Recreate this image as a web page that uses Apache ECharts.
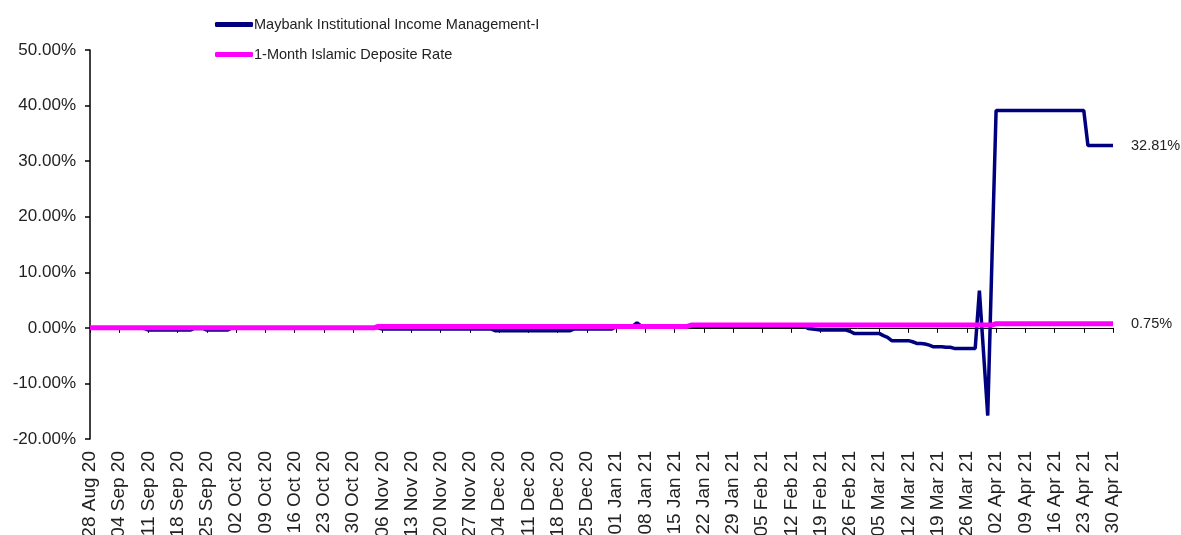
<!DOCTYPE html>
<html>
<head>
<meta charset="utf-8">
<script src="https://cdn.jsdelivr.net/npm/echarts@6/dist/echarts.min.js"></script>
<style>
html,body{margin:0;padding:0;background:#fff;}
#chart{width:1181px;height:535px;}
</style>
</head>
<body>
<div id="chart"></div>
<script>
// Daily categories from 28 Aug 2020 to 30 Apr 2021 (labels every 7th day)
const startDate = [2020, 7, 28];
const dayCount = 246;
const monthNames = ['Jan','Feb','Mar','Apr','May','Jun','Jul','Aug','Sep','Oct','Nov','Dec'];
const categories = [];
for (let i = 0; i < dayCount; i++) {
  const d = new Date(Date.UTC(startDate[0], startDate[1], startDate[2] + i));
  const dd = String(d.getUTCDate()).padStart(2, '0');
  const yy = String(d.getUTCFullYear()).slice(2);
  categories.push(dd + ' ' + monthNames[d.getUTCMonth()] + ' ' + yy);
}

const seriesNames = ['Maybank Institutional Income Management-I', '1-Month Islamic Deposite Rate'];

// Fund cumulative return (%), one row per week (Fri..Thu)
const fundValues = [
  0,0,0,0,0,0,0,
  0,0,0,0,0,0,-0.1,
  -0.4,-0.4,-0.4,-0.4,-0.4,-0.4,-0.4,
  -0.4,-0.4,-0.4,-0.4,-0.1,-0.1,-0.1,
  -0.4,-0.4,-0.4,-0.4,-0.4,-0.4,0,
  0,0,0,0,0,0,0,
  0,0,0,0,0,0,0,
  0,0,0,0,0,0,0,
  0,0,0,0,0,0,0,
  0,0,0,0,0,0,0,
  -0.2,-0.2,-0.2,-0.2,-0.2,-0.2,-0.2,
  -0.2,-0.2,-0.2,-0.2,-0.2,-0.2,-0.2,
  -0.2,-0.2,-0.2,-0.2,-0.2,-0.2,-0.2,
  -0.2,-0.2,-0.2,-0.2,-0.2,-0.2,-0.5,
  -0.5,-0.5,-0.5,-0.5,-0.5,-0.5,-0.5,
  -0.5,-0.5,-0.5,-0.5,-0.5,-0.5,-0.5,
  -0.5,-0.5,-0.5,-0.5,-0.2,-0.2,-0.2,
  -0.2,-0.2,-0.2,-0.2,-0.2,-0.2,-0.2,
  0.2,0.2,0.2,0.2,0.3,0.9,0.3,
  0.3,0.3,0.3,0.3,0.3,0.3,0.3,
  0.3,0.3,0.3,0.3,0.3,0.3,0.3,
  0.3,0.3,0.3,0.3,0.3,0.3,0.3,
  0.3,0.3,0.3,0.3,0.3,0.3,0.3,
  0.3,0.3,0.3,0.3,0.3,0.3,0.3,
  0.3,0.3,0.3,0.3,-0.1,-0.2,-0.3,
  -0.4,-0.4,-0.4,-0.4,-0.4,-0.4,-0.4,
  -0.6,-1.0,-1.0,-1.0,-1.0,-1.0,-1.0,
  -1.0,-1.4,-1.7,-2.3,-2.3,-2.3,-2.3,
  -2.3,-2.5,-2.8,-2.8,-2.9,-3.1,-3.4,
  -3.4,-3.4,-3.5,-3.5,-3.7,-3.7,-3.7,
  -3.7,-3.7,-3.7,6.7,-4.5,-15.8,12.0,
  39.1,39.1,39.1,39.1,39.1,39.1,39.1,
  39.1,39.1,39.1,39.1,39.1,39.1,39.1,
  39.1,39.1,39.1,39.1,39.1,39.1,39.1,
  39.1,32.81,32.81,32.81,32.81,32.81,32.81,
  32.81
];

// 1-Month Islamic deposit rate, cumulative (%)
const depositValues = [
  0,0,0,0,0,0,0,
  0,0,0,0,0,0,0,
  0,0,0,0,0,0,0,
  0,0,0,0,0,0,0,
  0,0,0,0,0,0,0,
  0,0,0,0,0,0,0,
  0,0,0,0,0,0,0,
  0,0,0,0,0,0,0,
  0,0,0,0,0,0,0,
  0,0,0,0,0,0,0.25,
  0.25,0.25,0.25,0.25,0.25,0.25,0.25,
  0.25,0.25,0.25,0.25,0.25,0.25,0.25,
  0.25,0.25,0.25,0.25,0.25,0.25,0.25,
  0.25,0.25,0.25,0.25,0.25,0.25,0.25,
  0.25,0.25,0.25,0.25,0.25,0.25,0.25,
  0.25,0.25,0.25,0.25,0.25,0.25,0.25,
  0.25,0.25,0.25,0.25,0.25,0.25,0.25,
  0.25,0.25,0.25,0.25,0.25,0.25,0.25,
  0.25,0.25,0.25,0.25,0.25,0.25,0.25,
  0.25,0.25,0.25,0.25,0.25,0.25,0.25,
  0.25,0.25,0.25,0.25,0.5,0.5,0.5,
  0.5,0.5,0.5,0.5,0.5,0.5,0.5,
  0.5,0.5,0.5,0.5,0.5,0.5,0.5,
  0.5,0.5,0.5,0.5,0.5,0.5,0.5,
  0.5,0.5,0.5,0.5,0.5,0.5,0.5,
  0.5,0.5,0.5,0.5,0.5,0.5,0.5,
  0.5,0.5,0.5,0.5,0.5,0.5,0.5,
  0.5,0.5,0.5,0.5,0.5,0.5,0.5,
  0.5,0.5,0.5,0.5,0.5,0.5,0.5,
  0.5,0.5,0.5,0.5,0.5,0.5,0.5,
  0.5,0.5,0.5,0.5,0.5,0.5,0.5,
  0.75,0.75,0.75,0.75,0.75,0.75,0.75,
  0.75,0.75,0.75,0.75,0.75,0.75,0.75,
  0.75,0.75,0.75,0.75,0.75,0.75,0.75,
  0.75,0.75,0.75,0.75,0.75,0.75,0.75,
  0.75
];

const yMin = -20, yMax = 50, yStep = 10;
const FONT = 'Liberation Sans, Arial, sans-serif';

const chart = echarts.init(document.getElementById('chart'), null, {renderer: 'canvas'});
chart.setOption({
  animation: false,
  backgroundColor: '#fff',
  grid: {left: 90, right: 68, top: 50, bottom: 96, containLabel: false, outerBoundsMode: 'none'},
  legend: {
    orient: 'vertical',
    left: 210,
    top: 12,
    itemWidth: 38,
    itemHeight: 5,
    itemGap: 15,
    icon: 'roundRect',
    textStyle: {fontFamily: FONT, fontSize: 14.5, color: '#222', padding: [0, 0, 0, -4]},
    data: seriesNames
  },
  xAxis: [
    {
      type: 'category',
      data: categories,
      boundaryGap: false,
      position: 'bottom',
      axisLine: {show: false, onZero: false},
      axisTick: {show: false},
      axisLabel: {
        interval: 6,
        rotate: 90,
        margin: 12,
        fontFamily: FONT,
        fontSize: 19,
        color: '#222'
      },
      splitLine: {show: false}
    },
    {
      type: 'category',
      data: categories,
      boundaryGap: false,
      position: 'bottom',
      axisLine: {show: true, onZero: true, lineStyle: {color: '#000', width: 1}},
      axisTick: {show: true, interval: 6, length: 5, lineStyle: {color: '#000'}},
      axisLabel: {show: false},
      splitLine: {show: false}
    }
  ],
  yAxis: {
    type: 'value',
    min: yMin,
    max: yMax,
    interval: yStep,
    axisLine: {show: true, lineStyle: {color: '#000', width: 1.5}},
    axisTick: {show: true, length: 5, lineStyle: {color: '#000', width: 1.5}},
    axisLabel: {
      margin: 14,
      fontFamily: FONT,
      fontSize: 17,
      color: '#222',
      formatter: v => v.toFixed(2) + '%'
    },
    splitLine: {show: false}
  },
  series: [
    {
      name: seriesNames[0],
      type: 'line',
      xAxisIndex: 0,
      data: fundValues,
      showSymbol: false,
      symbol: 'none',
      color: '#00007f',
      lineStyle: {color: '#00007f', width: 3.5},
      endLabel: {
        show: true,
        distance: 18,
        fontFamily: FONT,
        fontSize: 14.5,
        color: '#222',
        formatter: p => p.value.toFixed(2) + '%'
      },
      z: 2
    },
    {
      name: seriesNames[1],
      type: 'line',
      xAxisIndex: 0,
      data: depositValues,
      showSymbol: false,
      symbol: 'none',
      color: '#ff00ff',
      lineStyle: {color: '#ff00ff', width: 5},
      endLabel: {
        show: true,
        distance: 18,
        fontFamily: FONT,
        fontSize: 14.5,
        color: '#222',
        formatter: p => p.value.toFixed(2) + '%'
      },
      z: 3
    }
  ]
});
</script>
</body>
</html>
